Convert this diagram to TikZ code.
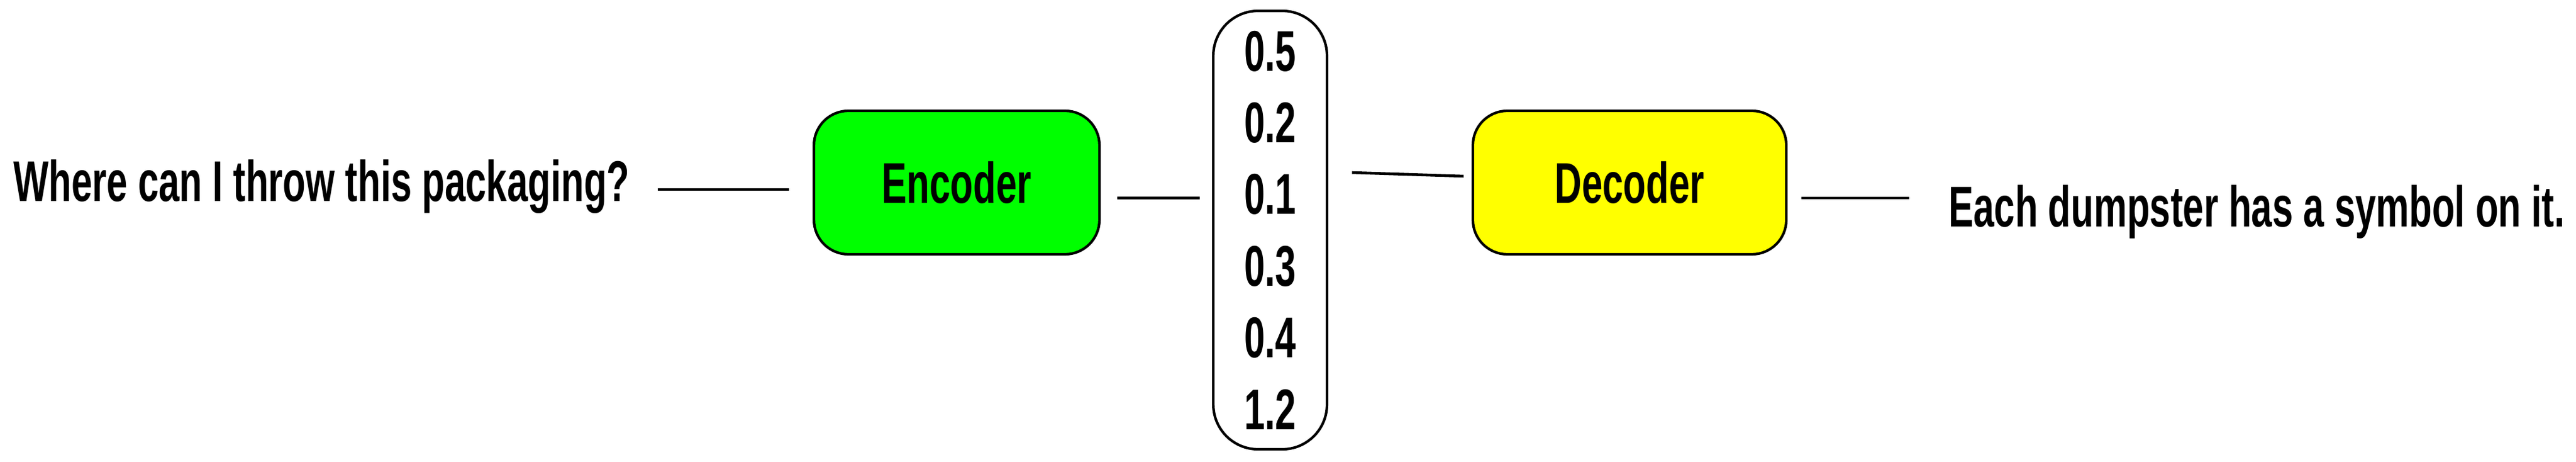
\documentclass[tikz,border=0pt]{standalone}
\usepackage{fontspec}
\setmainfont{Liberation Sans}
\usepackage{tikz}
\usetikzlibrary{calc}
\definecolor{encgreen}{RGB}{0,255,0}
\definecolor{decyellow}{RGB}{255,255,0}

\begin{document}
\begin{tikzpicture}[
  squish/.style={xscale=0.65, font=\fontsize{27pt}{33.7pt}\selectfont\bfseries},
  block/.style={squish, draw, line width=1.2pt, rounded corners=0.57cm, minimum height=2.37cm},
  wire/.style={line width=1.3pt}
]
\useasboundingbox (0,0) rectangle (42.57,-7.63);

% Input sentence
\node[squish, anchor=base west, inner sep=0] (query) at (0.22,-3.33) {Where can I throw this packaging?};

% Encoder
\node[block, fill=encgreen, minimum width=7.26cm] (enc) at (15.81,-3.015) {Encoder};

% Latent vector
\node[squish, draw, line width=1.2pt, rounded corners=0.74cm, minimum width=2.89cm, minimum height=7.24cm, align=center] (vec) at (20.99,-3.80) {0.5\\0.2\\0.1\\0.3\\0.4\\1.2};

% Decoder
\node[block, fill=decyellow, minimum width=7.97cm] (dec) at (26.93,-3.015) {Decoder};

% Output sentence
\node[squish, anchor=base west, inner sep=0] (ans) at (32.20,-3.75) {Each dumpster has a symbol on it.};

% Lines
\draw[wire] ([xshift=0.46cm,yshift=0.20cm]query.base east) -- ([xshift=-0.40cm,yshift=-0.115cm]enc.west);
\draw[wire] ([xshift=0.28cm,yshift=-0.255cm]enc.east) -- ([xshift=-0.21cm,yshift=0.53cm]vec.west);
\draw[wire] ([xshift=0.40cm,yshift=0.95cm]vec.east) -- ([xshift=-0.14cm,yshift=0.105cm]dec.west);
\draw[wire] ([xshift=0.24cm,yshift=-0.255cm]dec.east) -- ([xshift=-0.65cm,yshift=0.48cm]ans.base west);
\end{tikzpicture}
\end{document}
